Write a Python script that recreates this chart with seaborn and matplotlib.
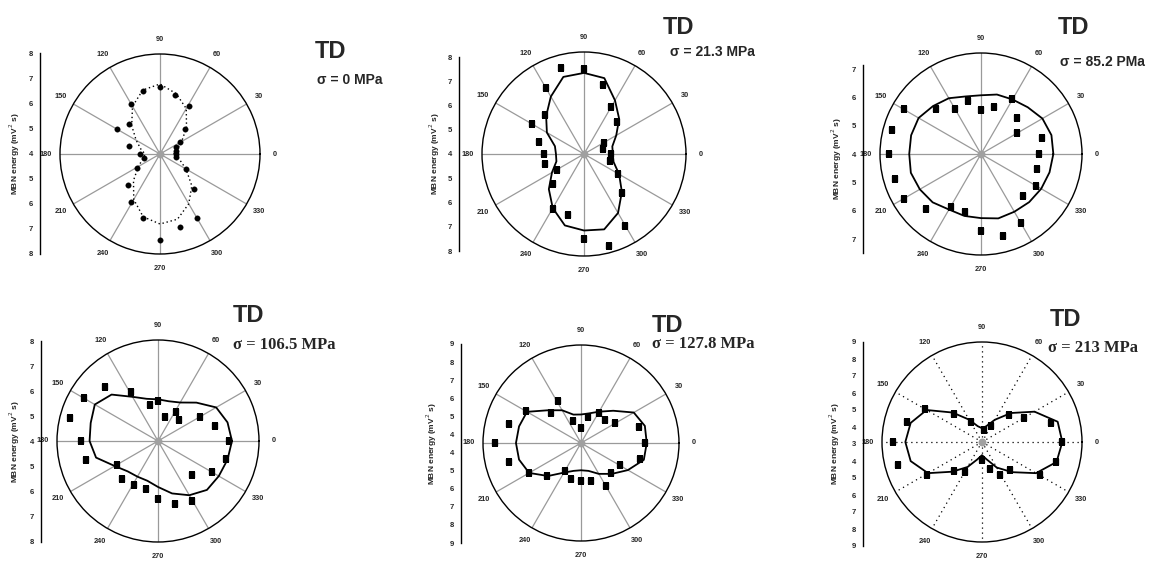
import numpy as np
import matplotlib
matplotlib.use("Agg")
import matplotlib.pyplot as plt
import seaborn as sns

sns.set_style("white")
plt.rcParams['font.family'] = ['Liberation Sans', 'DejaVu Sans']

W, H = 1174, 561

# ---------------- data ----------------
curve_deg = np.arange(0, 360, 15)
spoke_deg = np.arange(0, 360, 30)
spoke_labels = [str(d) for d in spoke_deg]

titles = ["TD"] * 6
sigma_labels = ["σ = 0 MPa", "σ = 21.3 MPa", "σ = 85.2 PMa",
                "σ = 106.5 MPa", "σ = 127.8 MPa", "σ = 213 MPa"]
ylabel = "MBN energy (mV$^2$ s)"

# panel 1 (sigma = 0)
p1_deg = [90, 76, 59, 45, 30, 23, 10, 0, -10, -31, -46, -60, -75, -90, -105,
          -121, -136, -150, -165, 180, 165, 150, 136, 120, 105]
p1_r = [6.69, 6.43, 6.23, 5.44, 4.94, 4.68, 4.63, 4.62, 4.64, 5.2, 5.97, 6.96,
        7.04, 7.44, 6.66, 6.22, 5.79, 5.08, 4.66, 4.8, 5.27, 6.0, 5.72, 6.3, 6.62]
p1_curve = [4.55, 4.7, 5.0, 5.5, 6.1, 6.5, 6.8, 6.65, 6.2, 5.6, 5.1, 4.8,
            4.6, 4.7, 5.0, 5.5, 6.1, 6.6, 6.8, 6.7, 6.3, 5.8, 5.2, 4.8]

# panel 2 (sigma = 21.3)
p2_deg = [90, 105, 75, 120, 60, 135, 44, 150, 30, 15, 165, 0, 180, -15, -166,
          -30, -149, -46, -136, -119, -105, -60, -90, -75]
p2_r = [7.35, 7.49, 6.81, 7.0, 6.13, 6.14, 5.81, 6.35, 4.9, 4.77, 5.82, 5.07,
        5.56, 5.04, 5.56, 5.53, 5.23, 6.15, 5.7, 6.48, 6.46, 7.24, 7.34, 7.75]
p2_curve = [5.13, 5.15, 5.46, 5.95, 6.43, 7.08, 7.18, 7.13, 6.6, 6.1, 5.68, 5.18,
            5.1, 5.12, 5.45, 5.95, 6.45, 6.9, 7.0, 7.06, 6.67, 6.1, 5.59, 5.2]

# panel 3 (sigma = 85.2)
p3_deg = [90, 75, 104, 120, 135, 61, 45, 30, 15, 0, -15, -30, -45, -60, -75,
          -90, -105, -120, -135, -150, -164, 180, 165, 150]
p3_r = [5.56, 5.72, 5.92, 5.83, 6.26, 6.22, 5.79, 5.48, 6.21, 6.06, 6.05, 6.24,
        6.1, 6.79, 6.98, 6.73, 6.12, 6.15, 6.75, 7.14, 7.16, 7.25, 7.24, 7.14]
p3_curve = [6.55, 6.57, 6.5, 6.33, 6.22, 6.17, 6.07, 6.1, 6.27, 6.39, 6.54, 6.55,
            6.53, 6.56, 6.49, 6.41, 6.26, 6.26, 6.26, 6.35, 6.35, 6.4, 6.45, 6.5]

# panel 4 (sigma = 106.5)
p4_deg = [90, 103, 119, 134, 150, 165, 180, -165, -149, -134, -119, -104, -90,
          -75, -60, -45, -30, -15, 0, 15, 30, 45, 58, 73]
p4_r = [5.59, 5.46, 6.22, 7.0, 7.38, 7.59, 7.06, 6.94, 5.88, 6.08, 5.99, 5.95,
        6.28, 6.6, 6.73, 5.9, 6.47, 6.8, 6.83, 6.32, 5.9, 5.2, 5.36, 5.0]
p4_curve = [6.93, 6.85, 6.66, 6.15, 5.76, 5.63, 5.65, 5.73, 6.02, 6.6, 6.89, 6.76,
            6.71, 6.54, 5.98, 5.7, 5.63, 5.63, 5.82, 6.15, 6.48, 6.74, 6.78, 6.85]

# panel 5 (sigma = 127.8)
p5_deg = [90, 109, 75, 59, 44, 31, 15, 0, -15, -29, -45, -60, -75, -90, -105,
          -120, -136, -150, -165, 180, 165, 150, 135, 119]
p5_r = [4.33, 4.81, 5.03, 5.44, 5.35, 5.7, 6.88, 7.1, 6.93, 6.03, 5.92, 6.3,
        5.7, 5.62, 5.57, 5.33, 6.15, 6.86, 7.67, 8.35, 7.67, 7.08, 5.92, 6.18]
p5_curve = [7.19, 7.21, 6.92, 6.06, 5.53, 5.22, 5.1, 5.15, 5.62, 6.1, 7.0, 7.1,
            7.15, 7.1, 6.86, 6.12, 5.42, 5.12, 5.03, 5.12, 5.5, 5.95, 6.54, 7.15]

# panel 6 (sigma = 213)
p6_deg = [82, 62, 119, 135, 150, 165, 180, -165, -149, -134, -120, -90, -74,
          -61, -45, -30, -15, 0, 15, 30, 45]
p6_r = [3.73, 4.11, 4.4, 5.36, 6.97, 7.67, 8.35, 8.23, 6.83, 5.41, 5.05, 4.1,
        4.69, 5.25, 5.39, 7.0, 7.6, 7.78, 7.3, 5.92, 5.27]
p6_curve = [7.82, 7.7, 6.64, 5.46, 4.54, 3.98, 3.83, 3.98, 4.55, 5.5, 6.84, 7.43,
            7.6, 7.43, 6.74, 5.52, 4.73, 4.08, 3.79, 4.08, 4.77, 5.56, 6.74, 7.63]

# radial scales (centre value, edge value) and left-axis tick values
r_limits = [(4, 8), (4, 8), (4, 7.56), (4, 8), (3.5, 9), (3, 9)]
axis_ticks = [[4, 5, 6, 7, 8], [4, 5, 6, 7, 8], [4, 5, 6, 7], [4, 5, 6, 7, 8],
              [4, 5, 6, 7, 8, 9], [3, 4, 5, 6, 7, 8, 9]]

# ---------------- layout (pixels) ----------------
layout = [
    dict(cx=160, cy=154, R=100, ax_x=40, top=53, bot=254, et=4, eb=4, ylx=15, tx=315, ty=51, sx=317, sy=80, serif=False),
    dict(cx=584, cy=154, R=102, ax_x=459, top=57, bot=251, et=4, eb=4, ylx=435, tx=663, ty=27, sx=670, sy=52, serif=False),
    dict(cx=981, cy=154, R=101, ax_x=863, top=65, bot=253, et=3.15, eb=3.49, ylx=837, tx=1058, ty=27, sx=1060, sy=62, serif=False),
    dict(cx=158, cy=441, R=101, ax_x=41, top=341, bot=542, et=4, eb=4, ylx=15, tx=233, ty=316, sx=233, sy=345, serif=True),
    dict(cx=581, cy=443, R=98, ax_x=461, top=344, bot=543, et=5.5, eb=5.5, ylx=432, tx=652, ty=325, sx=652, sy=344, serif=True),
    dict(cx=982, cy=442, R=100, ax_x=863, top=342, bot=546, et=6, eb=6, ylx=835, tx=1050, ty=320, sx=1048, sy=348, serif=True),
]

pts_deg = [p1_deg, p2_deg, p3_deg, p4_deg, p5_deg, p6_deg]
pts_r = [p1_r, p2_r, p3_r, p4_r, p5_r, p6_r]
curves = [p1_curve, p2_curve, p3_curve, p4_curve, p5_curve, p6_curve]

fig = plt.figure(figsize=(W / 100, H / 100), dpi=100)
fig.patch.set_facecolor("white")

for i in range(6):
    L = layout[i]
    rmin, rmax = r_limits[i]
    cx, cy, R = L['cx'], L['cy'], L['R']
    pax = fig.add_axes([(cx - R) / W, 1 - (cy + R) / H, 2 * R / W, 2 * R / H],
                       projection='polar')
    pax.set_facecolor("none")
    pax.set_ylim(rmin, rmax)
    pax.set_yticks([])
    pax.set_xticks(np.deg2rad(spoke_deg))
    pax.set_xticklabels(spoke_labels)
    pax.tick_params(axis='x', pad=0, labelsize=5.3)
    for lab in pax.get_xticklabels():
        lab.set_fontweight('bold')
    if i == 5:
        pax.xaxis.grid(True, color='black', linestyle=(0, (1, 3)), linewidth=0.9)
    else:
        pax.xaxis.grid(True, color='#9a9a9a', linestyle='-', linewidth=0.9)
    pax.yaxis.grid(False)
    pax.spines['polar'].set_color('black')
    pax.spines['polar'].set_linewidth(1.0)

    # fitted curve (closed)
    th = np.deg2rad(np.append(curve_deg, 360))
    rc = np.append(curves[i], curves[i][0])
    sns.lineplot(x=th, y=rc, ax=pax, sort=False, estimator=None, color='black',
                 linewidth=1.0 if i == 0 else 1.3,
                 linestyle=(0, (1, 2)) if i == 0 else '-')

    # measured points
    th_p = np.deg2rad(np.mod(pts_deg[i], 360))
    sns.scatterplot(x=th_p, y=pts_r[i], ax=pax, color='black',
                    marker='o' if i == 0 else 's', s=16 if i == 0 else 13,
                    edgecolor='black', linewidth=0.2, zorder=5)
    # centre dot
    pax.scatter([0], [rmin], s=22, color='#a0a0a0', zorder=6, clip_on=False)
    pax.set_xlabel("")
    pax.set_ylabel("")

    # left mirrored radial axis
    lax = fig.add_axes([L['ax_x'] / W, 1 - L['bot'] / H, 0.0005, (L['bot'] - L['top']) / H])
    lax.set_facecolor("none")
    lax.set_ylim(-L['eb'], L['et'])
    tv = axis_ticks[i]
    pos, labs = [], []
    for v in tv:
        d = v - rmin
        if d == 0:
            pos.append(0.0); labs.append(str(v))
        else:
            pos += [d, -d]; labs += [str(v), str(v)]
    lax.set_yticks(pos)
    lax.set_yticklabels(labs)
    lax.set_xticks([])
    for s in ['top', 'right', 'bottom']:
        lax.spines[s].set_visible(False)
    lax.spines['left'].set_linewidth(1.0)
    lax.spines['left'].set_color('black')
    lax.tick_params(axis='y', direction='out', length=3, width=0.8, pad=2, labelsize=5.5)
    for lab in lax.get_yticklabels():
        lab.set_fontweight('bold')

    fig.text(L['ylx'] / W, 1 - ((L['top'] + L['bot']) / 2) / H, ylabel,
             rotation=90, ha='center', va='center', fontsize=6, fontweight='bold')

    fig.text(L['tx'] / W, 1 - L['ty'] / H, titles[i], ha='left', va='center',
             fontsize=17, fontweight='bold')
    if L['serif']:
        fig.text(L['sx'] / W, 1 - L['sy'] / H, sigma_labels[i], ha='left', va='center',
                 fontsize=12, fontweight='bold', family=['Liberation Serif', 'DejaVu Serif'])
    else:
        fig.text(L['sx'] / W, 1 - L['sy'] / H, sigma_labels[i], ha='left', va='center',
                 fontsize=10, fontweight='bold')

fig.savefig("out.png", dpi=100, facecolor="white")
